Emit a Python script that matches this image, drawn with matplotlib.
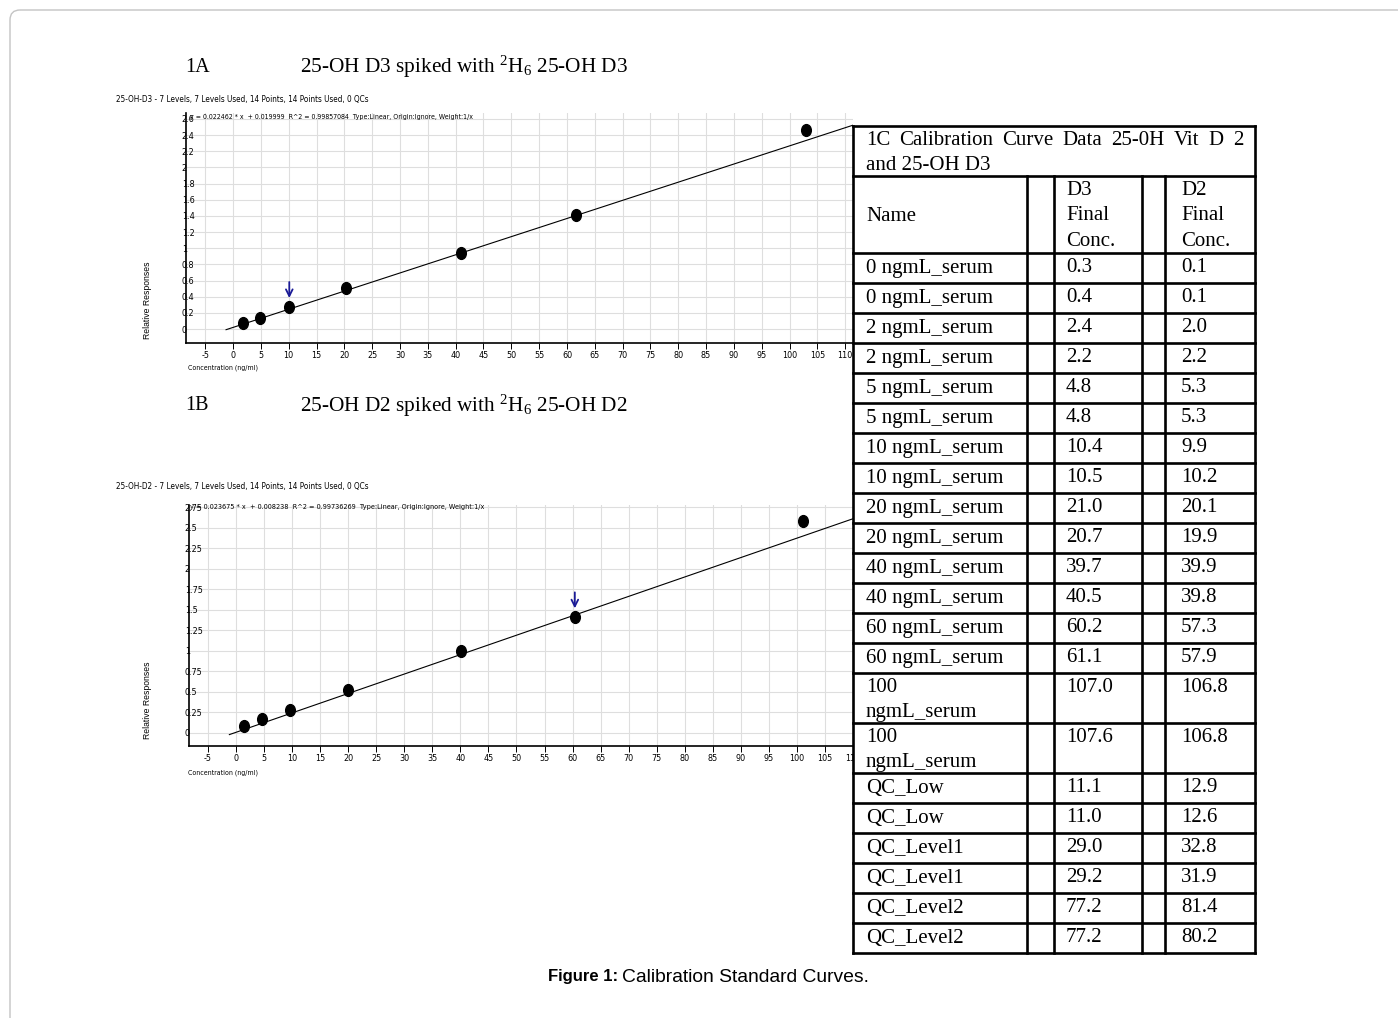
import numpy as np
import matplotlib
matplotlib.use('Agg')
import matplotlib.pyplot as plt
from matplotlib import font_manager as fm
from matplotlib.patches import FancyBboxPatch, Rectangle
from matplotlib.markers import MarkerStyle
from matplotlib.transforms import Affine2D

plt.rcParams['mathtext.fontset'] = 'custom'
plt.rcParams['mathtext.rm'] = 'Liberation Serif'
plt.rcParams['mathtext.it'] = 'Liberation Serif:italic'

SANS = ['Liberation Sans', 'DejaVu Sans']
SERIF = ['Liberation Serif', 'DejaVu Serif']


def font_path(**kw):
    try:
        return fm.findfont(fm.FontProperties(**kw), fallback_to_default=False)
    except Exception:
        return ''


# narrow sans for the instrument-software texts, if one is installed
if 'Narrow' in font_path(family='Liberation Sans Narrow'):
    NARROW = dict(fontfamily=['Liberation Sans Narrow', 'DejaVu Sans'])
    nscale = 1.0
elif 'Condensed' in font_path(family='DejaVu Sans', stretch='condensed'):
    NARROW = dict(fontfamily=['DejaVu Sans'], fontstretch='condensed')
    nscale = 0.92
else:
    NARROW = dict(fontfamily=SANS)
    nscale = 0.9

# calibration points
conc_d3 = [1.8, 4.9, 10.1, 20.3, 41.0, 61.7, 103.0]
resp_d3 = [0.074, 0.136, 0.272, 0.507, 0.94, 1.41, 2.46]
slope_d3, icpt_d3 = 0.022462, 0.019999

conc_d2 = [1.5, 4.6, 9.6, 19.9, 40.1, 60.4, 101.0]
resp_d2 = [0.085, 0.17, 0.28, 0.52, 1.0, 1.41, 2.59]
slope_d2, icpt_d2 = 0.023675, 0.008238

yticks_d3 = [0, 0.2, 0.4, 0.6, 0.8, 1, 1.2, 1.4, 1.6, 1.8, 2, 2.2, 2.4, 2.6]
ylabels_d3 = ['0', '0.2', '0.4', '0.6', '0.8', '1', '1.2', '1.4', '1.6', '1.8', '2', '2.2', '2.4', '2.6']
yticks_d2 = [0, 0.25, 0.5, 0.75, 1, 1.25, 1.5, 1.75, 2, 2.25, 2.5, 2.75]
ylabels_d2 = ['0', '0.25', '0.5', '0.75', '1', '1.25', '1.5', '1.75', '2', '2.25', '2.5', '2.75']
xticks = list(range(-5, 115, 5))

hdr_d3 = '25-OH-D3 - 7 Levels, 7 Levels Used, 14 Points, 14 Points Used, 0 QCs'
hdr_d2 = '25-OH-D2 - 7 Levels, 7 Levels Used, 14 Points, 14 Points Used, 0 QCs'
eq_d3 = 'y = 0.022462 * x  + 0.019999  R^2 = 0.99857084  Type:Linear, Origin:Ignore, Weight:1/x'
eq_d2 = 'y = 0.023675 * x  + 0.008238  R^2 = 0.99736269  Type:Linear, Origin:Ignore, Weight:1/x'

# table 1C
tbl_title = ['1C Calibration Curve Data 25-0H Vit D 2', 'and 25-OH D3']
names = ['0 ngmL_serum', '0 ngmL_serum', '2 ngmL_serum', '2 ngmL_serum',
         '5 ngmL_serum', '5 ngmL_serum', '10 ngmL_serum', '10 ngmL_serum',
         '20 ngmL_serum', '20 ngmL_serum', '40 ngmL_serum', '40 ngmL_serum',
         '60 ngmL_serum', '60 ngmL_serum', '100\nngmL_serum', '100\nngmL_serum',
         'QC_Low', 'QC_Low', 'QC_Level1', 'QC_Level1', 'QC_Level2', 'QC_Level2']
d3_conc = ['0.3', '0.4', '2.4', '2.2', '4.8', '4.8', '10.4', '10.5', '21.0', '20.7',
           '39.7', '40.5', '60.2', '61.1', '107.0', '107.6', '11.1', '11.0',
           '29.0', '29.2', '77.2', '77.2']
d2_conc = ['0.1', '0.1', '2.0', '2.2', '5.3', '5.3', '9.9', '10.2', '20.1', '19.9',
           '39.9', '39.8', '57.3', '57.9', '106.8', '106.8', '12.9', '12.6',
           '32.8', '31.9', '81.4', '80.2']

W, H = 1398, 1018
fig = plt.figure(figsize=(W / 100, H / 100), dpi=100)


def px_axes(left, top, right, bottom):
    return fig.add_axes([left / W, 1 - bottom / H, (right - left) / W, (bottom - top) / H])


def calib_plot(ax, conc, resp, slope, icpt, xlim, ylim, yt, yl, arrow_i):
    ax.set_xlim(xlim)
    ax.set_ylim(ylim)
    ax.set_xticks(xticks)
    ax.set_xticklabels([str(v) for v in xticks], fontsize=7 * nscale, **NARROW)
    ax.set_yticks(yt)
    ax.set_yticklabels(yl, fontsize=7 * nscale, ha='left', **NARROW)
    # grid drawn by hand so tick labels can sit on top of the axis line
    for v in xticks:
        ax.axvline(v, color='#dedede', lw=0.8, zorder=0.5)
    for v in yt:
        ax.axhline(v, color='#dedede', lw=0.8, zorder=0.5)
    for s in ['top', 'right']:
        ax.spines[s].set_visible(False)
    for s in ['left', 'bottom']:
        ax.spines[s].set_linewidth(1.2)
    ax.tick_params(axis='x', length=4, width=0.7, pad=1.5)
    ax.tick_params(axis='y', length=0, pad=3.0)

    xs = np.array([xlim[0] + 7.2, 130])
    ax.plot(xs, slope * xs + icpt, color='black', lw=0.8)
    m = MarkerStyle('o', transform=Affine2D().scale(0.82, 1.0))
    ax.plot(conc, resp, ls='none', marker=m, ms=8.5, color='black')

    bb = ax.get_position()
    ppu = bb.height * H / (ylim[1] - ylim[0])
    x0, y0 = conc[arrow_i], resp[arrow_i]
    ax.annotate('', xy=(x0, y0 + 9 / ppu), xytext=(x0, y0 + 25 / ppu),
                arrowprops=dict(arrowstyle='->', color='#1a1a96', lw=1.3,
                                mutation_scale=12, shrinkA=0, shrinkB=0))


ax1 = px_axes(186, 113, 853, 343)
calib_plot(ax1, conc_d3, resp_d3, slope_d3, icpt_d3, (-8.46, 111.4), (-0.173, 2.673),
           yticks_d3, ylabels_d3, 2)

ax2 = px_axes(189, 505, 853, 746)
calib_plot(ax2, conc_d2, resp_d2, slope_d2, icpt_d2, (-8.39, 105.3), (-0.159, 2.78),
           yticks_d2, ylabels_d2, 5)

# overlay in pixel coordinates for titles, notes, table and frame
ov = fig.add_axes([0, 0, 1, 1], zorder=5)
ov.set_xlim(0, W)
ov.set_ylim(H, 0)
ov.axis('off')
renderer = fig.canvas.get_renderer()

ov.add_patch(FancyBboxPatch((10, 10), 1420, 1040, boxstyle='round,pad=0,rounding_size=10',
                            fc='none', ec='#c4c4c4', lw=1.0))

ov.text(185, 67, '1A', fontfamily=SERIF, fontsize=14.5, va='center')
ov.text(300, 67, r'25-OH D3 spiked with $^{2}$H$_{6}$ 25-OH D3', fontfamily=SERIF, fontsize=15.3, va='center')
ov.text(185, 406, '1B', fontfamily=SERIF, fontsize=14.5, va='center')
ov.text(300, 406, r'25-OH D2 spiked with $^{2}$H$_{6}$ 25-OH D2', fontfamily=SERIF, fontsize=15.3, va='center')


def fit_text(x, y, s, width, size, **kw):
    # shrink a small note so it spans the same width as in the picture
    t = ov.text(x, y, s, fontsize=size, va='center', **kw)
    w = t.get_window_extent(renderer).width
    if w > width:
        t.set_fontsize(size * width / w)
    return t


fit_text(116, 99, hdr_d3, 252, 7.2 * nscale, **NARROW)
fit_text(190, 117, eq_d3, 279, 7.2 * nscale, **NARROW)
fit_text(116, 487, hdr_d2, 252, 7.2 * nscale, **NARROW)
fit_text(190, 507, eq_d2, 289, 7.2 * nscale, **NARROW)
fit_text(188, 368, 'Concentration (ng/ml)', 70, 7 * nscale, **NARROW)
fit_text(188, 773, 'Concentration (ng/ml)', 70, 7 * nscale, **NARROW)
ov.text(148, 300, 'Relative Responses', fontfamily=SANS, fontsize=6.2, va='center', ha='center', rotation=90)
ov.text(148, 700, 'Relative Responses', fontfamily=SANS, fontsize=6.2, va='center', ha='center', rotation=90)

# table
cols = [853, 1027, 1054, 1142, 1165, 1255]
t_top, t_hdr, t_body = 126, 176, 253
fs = 15
row_h = [30 if '\n' not in n else 50 for n in names]
bottoms = list(np.cumsum([t_body] + row_h))
t_bot = bottoms[-1]

ov.add_patch(Rectangle((cols[0], t_top), cols[-1] - cols[0], t_bot - t_top, fc='white', ec='none', zorder=1))
lw = 1.9
for y in [t_top, t_hdr] + bottoms:
    ov.plot([cols[0], cols[-1]], [y, y], color='black', lw=lw, zorder=3, solid_capstyle='projecting')
for x in [cols[0], cols[-1]]:
    ov.plot([x, x], [t_top, t_bot], color='black', lw=lw, zorder=3, solid_capstyle='projecting')
for x in cols[1:-1]:
    ov.plot([x, x], [t_hdr, t_bot], color='black', lw=lw, zorder=3)

# justified first title line
words = tbl_title[0].split(' ')
wt = [ov.text(0, t_top + 14, w, fontfamily=SERIF, fontsize=fs, va='center', zorder=4) for w in words]
widths = [t.get_window_extent(renderer).width for t in wt]
gap = (1243 - 866 - sum(widths)) / (len(words) - 1)
x = 866
for t, wd in zip(wt, widths):
    t.set_x(x)
    x += wd + gap
ov.text(866, t_top + 39, tbl_title[1], fontfamily=SERIF, fontsize=fs, va='center', zorder=4)

ov.text(866, 216, 'Name', fontfamily=SERIF, fontsize=fs, va='center', zorder=4)
for i, s in enumerate(['D3', 'Final', 'Conc.']):
    ov.text(1066, t_hdr + 14 + 25.5 * i, s, fontfamily=SERIF, fontsize=fs, va='center', zorder=4)
for i, s in enumerate(['D2', 'Final', 'Conc.']):
    ov.text(1181, t_hdr + 14 + 25.5 * i, s, fontfamily=SERIF, fontsize=fs, va='center', zorder=4)

for i in range(len(names)):
    top = bottoms[i]
    for j, line in enumerate(names[i].split('\n')):
        ov.text(866, top + 15 + 25 * j, line, fontfamily=SERIF, fontsize=fs, va='center', zorder=4)
    ov.text(1066, top + 15, d3_conc[i], fontfamily=SERIF, fontsize=fs, va='center', zorder=4)
    ov.text(1181, top + 15, d2_conc[i], fontfamily=SERIF, fontsize=fs, va='center', zorder=4)

# caption
cb = ov.text(548, 977, 'Figure 1:', fontfamily=SANS, fontsize=12, fontweight='bold', va='center')
bw = cb.get_window_extent(renderer).width
ov.text(548 + bw + 4, 977, 'Calibration Standard Curves.', fontfamily=SANS, fontsize=13.9, va='center')

fig.savefig('out.png', dpi=100)
